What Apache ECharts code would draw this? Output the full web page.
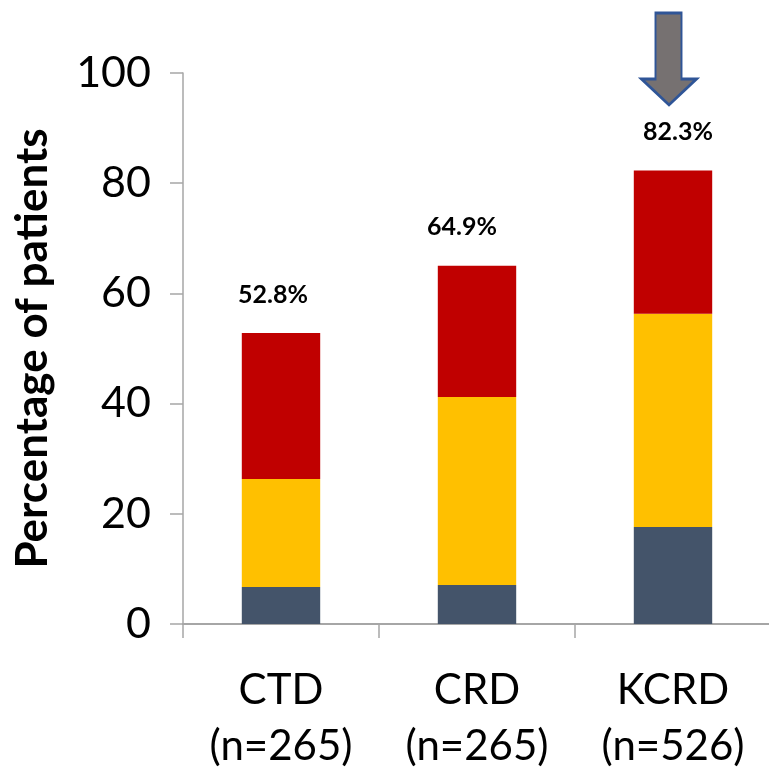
<!DOCTYPE html>
<html>
<head>
<meta charset="utf-8">
<script src="https://cdn.jsdelivr.net/npm/echarts@6/dist/echarts.min.js"></script>
<style>
html,body{margin:0;padding:0;background:#fff;}
#main{width:769px;height:768px;}
</style>
</head>
<body>
<div id="main"></div>
<script>
// 数据
var categories = ['CTD', 'CRD', 'KCRD'];
var sizes = ['(n=265)', '(n=265)', '(n=526)'];
var darkPart = [6.7, 7.1, 17.6];
var yellowPart = [19.6, 34.1, 38.7];
var redPart = [26.5, 23.8, 26.0];
var totals = ['52.8%', '64.9%', '82.3%'];
var yTicks = [0, 20, 40, 60, 80, 100];

var FONT = 'Lato';
//标签左右偏移
var labelShift = [-8, -15, 5];
var myChart = echarts.init(document.getElementById('main'));

var labels = [];
var redData = [];
for (var i = 0; i < categories.length; i++) {
	labels.push(categories[i] + '\n' + sizes[i]);
	redData.push({
		value: redPart[i],
		label: { offset: [labelShift[i], 0] }
	});
}

var option = {
	animation: false,
	textStyle: { fontFamily: FONT },
	grid: {
		left: 183,
		right: -2,
		top: 73,
		bottom: 144,
		outerBoundsMode: 'none'
	},
	xAxis: {
		type: 'category',
		data: labels,
		axisLine: { lineStyle: { color: '#A6A6A6', width: 2 } },
		axisTick: { show: true, length: 14, lineStyle: { color: '#A6A6A6', width: 1.5 } },
		axisLabel: {
			color: '#000',
			fontSize: 42,
			lineHeight: 56,
			margin: 38,
			fontFamily: FONT
		}
	},
	yAxis: {
		type: 'value',
		min: yTicks[0],
		max: yTicks[yTicks.length - 1],
		interval: 20,
		name: 'Percentage of patients',
		nameLocation: 'middle',
		nameGap: 128,
		nameTextStyle: {
			color: '#000',
			fontSize: 44,
			fontWeight: 'bold',
			fontFamily: FONT
		},
		splitLine: { show: false },
		axisLine: { show: true, lineStyle: { color: '#A6A6A6', width: 1.5 } },
		axisTick: { show: true, length: 13, lineStyle: { color: '#A6A6A6', width: 1.5 } },
		axisLabel: {
			color: '#000',
			fontSize: 43,
			margin: 32,
			fontFamily: FONT
		}
	},
	series: [{
		type: 'bar',
		stack: 'all',
		barWidth: '40%',
		itemStyle: { color: '#44546A' },
		data: darkPart
	}, {
		type: 'bar',
		stack: 'all',
		itemStyle: { color: '#FFC000' },
		data: yellowPart
	}, {
		type: 'bar',
		stack: 'all',
		itemStyle: { color: '#C00000' },
		label: {
			show: true,
			position: 'top',
			distance: 26,
			color: '#000',
			fontSize: 25,
			fontWeight: 'bold',
			fontFamily: FONT,
			formatter: function(p) {
				return totals[p.dataIndex];
			}
		},
		markPoint: {
			silent: true,
			symbol: 'path://M14,0 L40,0 L40,66 L55,66 L27.5,92 L0,66 L14,66 Z',
			symbolSize: [55, 92],
			symbolOffset: [-4, -14],
			itemStyle: { color: '#767171', borderColor: '#2F5597', borderWidth: 2.5 },
			label: { show: false },
			data: [{ coord: [2, 100] }]
		},
		data: redData
	}]
};
myChart.setOption(option);
</script>
</body>
</html>
